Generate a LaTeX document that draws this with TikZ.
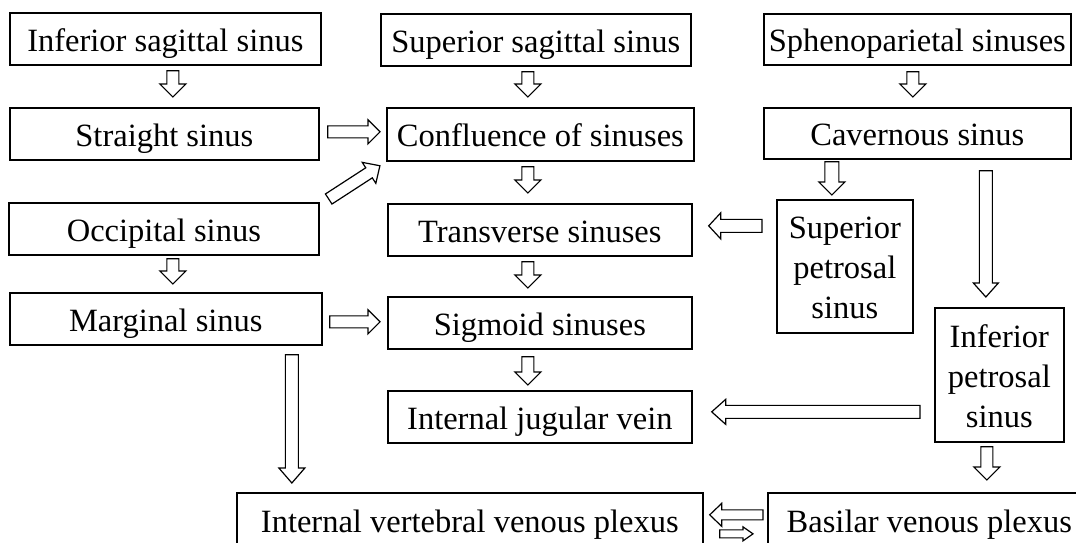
\documentclass[tikz,border=0pt]{standalone}
\usepackage{fontspec}
\setmainfont{Liberation Serif}
\usetikzlibrary{calc}
\tikzset{
  box/.style={draw, line width=1.7pt, inner sep=0pt,
    font=\fontsize{32.5}{40}\selectfont, anchor=north west},
  barr/.style={draw, fill=white, line width=1.2pt, line join=miter},
}
\newcommand\bx[6]{\node[box, minimum width={(#4-#2)*1pt}, minimum height={(#5-#3)*1pt}] (#1) at (#2,#3)
  {\raisebox{-4.5pt}[\height][\depth]{\begin{tabular}{@{}c@{}}#6\end{tabular}}};}
\newcommand\barrow[5]{%
  \draw[barr] let \p1=(#1), \p2=(#2), \n1={atan2(\y2-\y1,\x2-\x1)}, \n2={veclen(\x2-\x1,\y2-\y1)} in
   [shift={(\p1)}, rotate=\n1] (0pt,-#3pt) -- ({\n2-#5pt},-#3pt) -- ({\n2-#5pt},-#4pt) -- ({\n2+0pt},0pt)
   -- ({\n2-#5pt},#4pt) -- ({\n2-#5pt},#3pt) -- (0pt,#3pt) -- cycle;}
\begin{document}
\begin{tikzpicture}[x=1pt,y=-1pt]
\fill[white] (0,0) rectangle (1076,543);
\clip (0,0) rectangle (1076,543);
\bx{iss}{9}{12}{320}{64}{Inferior sagittal sinus}
\bx{ss}{9}{107}{318}{159}{Straight sinus}
\bx{os}{8}{202}{318}{254}{Occipital sinus}
\bx{ms}{9}{292}{321}{344}{Marginal sinus}
\bx{sups}{380}{13}{690}{65}{Superior sagittal sinus}
\bx{conf}{386}{107}{693}{160}{Confluence of sinuses}
\bx{trans}{387}{203}{691}{255}{Transverse sinuses}
\bx{sig}{387}{296}{691}{348}{Sigmoid sinuses}
\bx{ijv}{387}{390}{691}{442}{Internal jugular vein}
\bx{sphen}{763}{13}{1070}{64}{Sphenoparietal sinuses}
\bx{cav}{763}{107}{1070}{158}{Cavernous sinus}
\bx{sps}{776}{199}{912}{332}{Superior\\petrosal\\sinus}
\bx{ips}{934}{307}{1063}{441}{Inferior\\petrosal\\sinus}
\bx{ivvp}{236}{492}{702}{547}{Internal vertebral venous plexus}
\bx{bas}{767}{492}{1090}{547}{Basilar venous plexus}
% short down arrows
\barrow{$(iss.south)+(7.5,5)$}{$(ss.north)+(8.5,-10)$}{6}{13}{13}
\barrow{$(sups.south)+(-8,5)$}{$(conf.north)+(-12.5,-10)$}{6}{13}{13}
\barrow{$(sphen.south)+(-4.5,6)$}{$(cav.north)+(-4.5,-10)$}{6}{13}{13}
\barrow{$(conf.south)+(-12.5,5)$}{$(trans.north)+(-12,-10)$}{6}{13}{13}
\barrow{$(os.south)+(9,3)$}{$(ms.north)+(7,-8)$}{6}{13}{13}
\barrow{$(trans.south)+(-12,5)$}{$(sig.north)+(-12,-8)$}{6}{13}{13}
\barrow{$(sig.south)+(-12,7)$}{$(ijv.north)+(-12,-5)$}{6}{13}{13}
\barrow{$(cav.south)+(-85.5,2)$}{$(sps.north)+(-13,-4)$}{7}{13}{13}
\barrow{$(ips.south)+(-12.5,4)$}{$(bas.north)+(57.5,-12)$}{6}{13}{13}
% horizontal / diagonal
\barrow{$(ss.east)+(8,-2)$}{$(conf.west)+(-6,-2.5)$}{6}{12}{12}
\barrow{$(os.north east)+(9,-3)$}{$(conf.south west)+(-6,4)$}{6}{12.5}{13}
\barrow{$(ms.east)+(7,3)$}{$(sig.west)+(-7,-1)$}{6}{12}{12}
\barrow{$(sps.west)+(-14,-40.5)$}{$(trans.east)+(16,-4)$}{6.5}{13}{12}
% long arrows
\barrow{$(cav.south)+(68.5,11)$}{$(ips.north)+(-13.5,-10)$}{6.5}{12.5}{14}
\barrow{$(ips.west)+(-14,37)$}{$(ijv.east)+(19,-5)$}{6.5}{12.5}{14}
\barrow{$(ms.south)+(126,9)$}{$(ivvp.north)+(-178,-9)$}{6.5}{13}{15}
% double arrow
\barrow{$(bas.west)+(-4,-5.5)$}{$(ivvp.east)+(6,-5.5)$}{5}{11.5}{12}
\barrow{$(ivvp.east)+(16,13.5)$}{$(bas.west)+(-14,13.5)$}{4}{7}{10}
\end{tikzpicture}
\end{document}
